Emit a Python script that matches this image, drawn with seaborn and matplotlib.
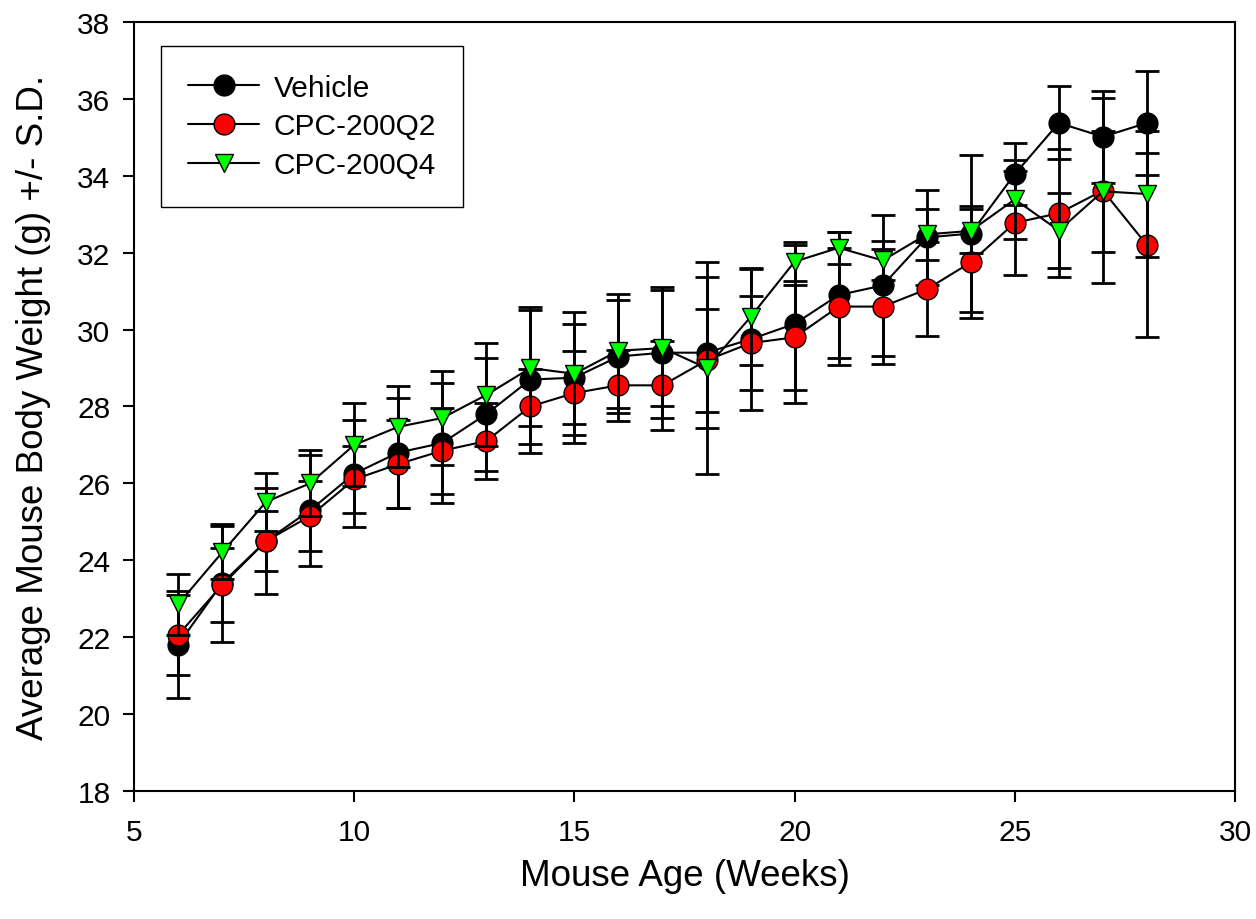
import matplotlib
matplotlib.use("Agg")
import matplotlib.pyplot as plt
import seaborn as sns
import pandas as pd

weeks = list(range(6, 29))

vehicle_mean = [21.8, 23.4, 24.5, 25.3, 26.25, 26.8, 27.05, 27.8, 28.7, 28.75, 29.3, 29.4,
                29.4, 29.75, 30.15, 30.9, 31.15, 32.4, 32.5, 34.05, 35.38, 35.02, 35.38]
vehicle_sd = [1.4, 1.53, 1.37, 1.44, 1.4, 1.43, 1.55, 1.47, 1.9, 1.7, 1.46, 1.7,
              1.97, 1.85, 2.05, 1.63, 1.83, 1.24, 2.04, 0.8, 0.95, 1.2, 1.35]

q2_mean = [22.05, 23.35, 24.5, 25.15, 26.1, 26.5, 26.85, 27.1, 28.0, 28.35, 28.55, 28.55,
           29.2, 29.65, 29.8, 30.6, 30.6, 31.05, 31.75, 32.78, 33.03, 33.62, 32.2]
q2_sd = [1.05, 0.96, 0.78, 0.91, 0.88, 1.14, 1.12, 1.0, 0.97, 1.1, 0.93, 1.15,
         1.34, 1.23, 1.37, 1.53, 1.5, 1.22, 1.46, 1.35, 1.67, 2.4, 2.4]

q4_mean = [22.85, 24.2, 25.52, 26.0, 27.0, 27.47, 27.7, 28.3, 29.0, 28.85, 29.45, 29.52,
           29.0, 30.33, 31.77, 32.13, 31.8, 32.48, 32.57, 33.39, 32.58, 33.6, 33.53]
q4_sd = [0.8, 0.7, 0.75, 0.86, 1.08, 1.05, 1.22, 1.34, 1.5, 1.3, 1.48, 1.5,
         2.77, 1.25, 0.5, 0.42, 0.5, 0.66, 0.58, 1.03, 0.98, 1.57, 1.63]

series_names = ["Vehicle", "CPC-200Q2", "CPC-200Q4"]
series_means = [vehicle_mean, q2_mean, q4_mean]
series_sds = [vehicle_sd, q2_sd, q4_sd]
series_colors = ["#000000", "#FF0000", "#00FF00"]
series_markers = ["o", "o", "v"]
series_msize = [15, 15, 13]

x_ticks = [5, 10, 15, 20, 25, 30]
y_ticks = [18, 20, 22, 24, 26, 28, 30, 32, 34, 36, 38]
x_label = "Mouse Age (Weeks)"
y_label = "Average Mouse Body Weight (g) +/- S.D."

sns.set_style("ticks")
plt.rcParams["font.family"] = ["Liberation Sans", "DejaVu Sans"]
plt.rcParams["text.color"] = "black"
plt.rcParams["axes.labelcolor"] = "black"
plt.rcParams["xtick.color"] = "black"
plt.rcParams["ytick.color"] = "black"

fig = plt.figure(figsize=(12.56, 9.2), dpi=100)
ax = fig.add_axes([0.1067, 0.1395, 0.8766, 0.8352])

for i, (name, m, s, c, mk, ms) in enumerate(zip(series_names, series_means, series_sds,
                                                 series_colors, series_markers, series_msize)):
    df = pd.DataFrame({"week": weeks, "weight": m, "sd": s})
    base = 2 + 3 * i
    ax.errorbar(df["week"], df["weight"], yerr=df["sd"], fmt="none", ecolor="black",
                elinewidth=2.0, capsize=8.3, capthick=2.0, zorder=base)
    sns.lineplot(data=df, x="week", y="weight", ax=ax, color="black", linewidth=1.5,
                 marker=mk, markersize=ms, markerfacecolor=c, markeredgecolor="black",
                 markeredgewidth=1.0, label=name, zorder=base + 1, estimator=None,
                 errorbar=None)

ax.set_xlim(5, 30)
ax.set_ylim(18, 38)
ax.set_xticks(x_ticks)
ax.set_yticks(y_ticks)
ax.set_xticklabels([str(t) for t in x_ticks])
ax.set_yticklabels([str(t) for t in y_ticks])
ax.tick_params(axis="both", which="major", direction="out", length=8, width=1.5,
               labelsize=21.5, colors="black")
ax.tick_params(axis="x", pad=12)
ax.tick_params(axis="y", pad=9)
ax.tick_params(top=False, right=False)
for sp in ax.spines.values():
    sp.set_visible(True)
    sp.set_linewidth(1.5)
    sp.set_color("black")

ax.set_xlabel(x_label, fontsize=26.5, labelpad=8, color="black")
ax.set_ylabel(y_label, fontsize=26.5, labelpad=19, color="black")

leg = ax.legend(loc="upper left", bbox_to_anchor=(0.0245, 0.969), borderaxespad=0,
                fontsize=21.5, frameon=True, fancybox=False, edgecolor="black",
                framealpha=1, handlelength=2.35, handletextpad=0.5, labelspacing=0.36,
                borderpad=0.92)
leg.get_frame().set_linewidth(1.0)
for t in leg.get_texts():
    t.set_color("black")

fig.savefig("out.png", dpi=100)
